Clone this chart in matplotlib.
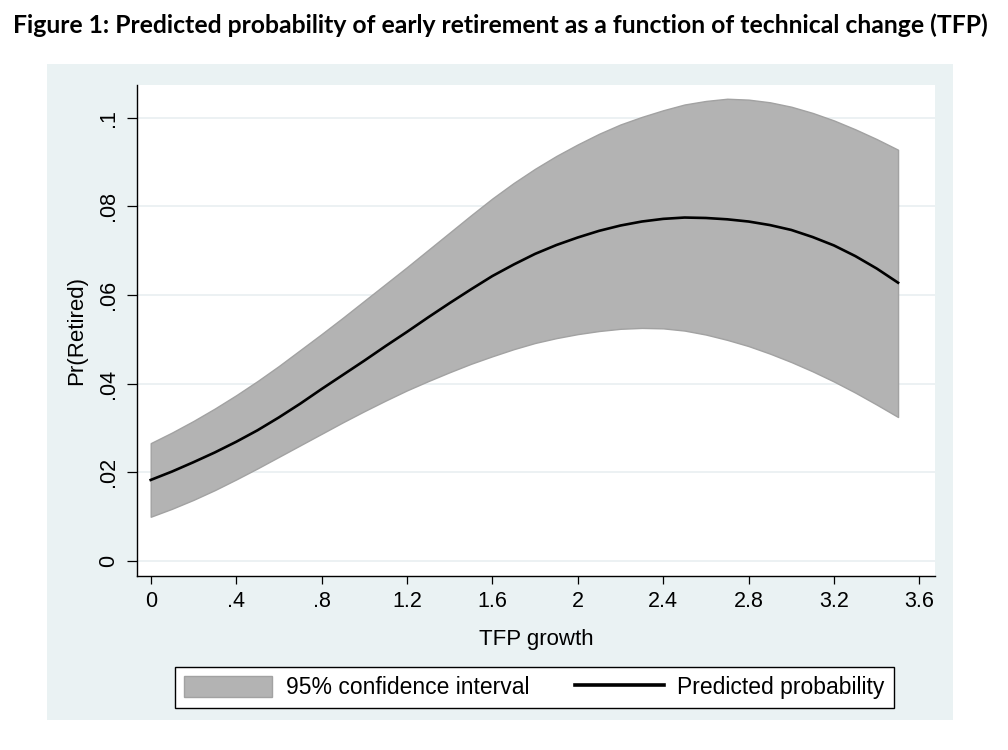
import matplotlib
matplotlib.use("Agg")
import matplotlib.pyplot as plt
from matplotlib.patches import Rectangle, Patch
from matplotlib.lines import Line2D

# values, every 0.1 of TFP growth
tfp = [0.0, 0.1, 0.2, 0.3, 0.4, 0.5, 0.6, 0.7, 0.8, 0.9,
       1.0, 1.1, 1.2, 1.3, 1.4, 1.5, 1.6, 1.7, 1.8, 1.9,
       2.0, 2.1, 2.2, 2.3, 2.4, 2.5, 2.6, 2.7, 2.8, 2.9,
       3.0, 3.1, 3.2, 3.3, 3.4, 3.5]
pred = [0.0183, 0.0202, 0.0223, 0.0245, 0.0269, 0.0295, 0.0324, 0.0355, 0.0388, 0.0420,
        0.0452, 0.0485, 0.0517, 0.0550, 0.0582, 0.0613, 0.0643, 0.0669, 0.0693, 0.0713,
        0.0730, 0.0745, 0.0757, 0.0766, 0.0772, 0.0775, 0.0774, 0.0771, 0.0766, 0.0758,
        0.0747, 0.0731, 0.0712, 0.0688, 0.0660, 0.0628]
ci_upper = [0.0266, 0.0290, 0.0316, 0.0344, 0.0374, 0.0406, 0.0440, 0.0476, 0.0512, 0.0549,
            0.0587, 0.0625, 0.0663, 0.0702, 0.0741, 0.0780, 0.0818, 0.0853, 0.0885, 0.0914,
            0.0940, 0.0964, 0.0985, 0.1002, 0.1017, 0.1030, 0.1038, 0.1043, 0.1041, 0.1035,
            0.1025, 0.1011, 0.0994, 0.0974, 0.0952, 0.0928]
ci_lower = [0.0100, 0.0118, 0.0138, 0.0160, 0.0184, 0.0209, 0.0235, 0.0261, 0.0287, 0.0313,
            0.0338, 0.0362, 0.0385, 0.0406, 0.0426, 0.0445, 0.0462, 0.0478, 0.0492, 0.0503,
            0.0512, 0.0519, 0.0524, 0.0526, 0.0525, 0.0520, 0.0511, 0.0499, 0.0485, 0.0468,
            0.0449, 0.0428, 0.0405, 0.0380, 0.0353, 0.0325]

x_ticks = [0, 0.4, 0.8, 1.2, 1.6, 2, 2.4, 2.8, 3.2, 3.6]
x_tick_labels = ["0", ".4", ".8", "1.2", "1.6", "2", "2.4", "2.8", "3.2", "3.6"]
y_ticks = [0, 0.02, 0.04, 0.06, 0.08, 0.1]
y_tick_labels = ["0", ".02", ".04", ".06", ".08", ".1"]

title = "Figure 1: Predicted probability of early retirement as a function of technical change (TFP)"

W, H = 1008, 750
plt.rcParams['font.family'] = ['Liberation Sans', 'DejaVu Sans']

fig = plt.figure(figsize=(W / 100, H / 100), dpi=100)
fig.patch.set_facecolor("white")

# stata graph region (behind the axes)
region = Rectangle((47 / W, 1 - 720 / H), 906 / W, 656 / H,
                   transform=fig.transFigure, facecolor="#EAF2F3",
                   edgecolor="none", zorder=-10)
fig.add_artist(region)

ax = fig.add_axes([136.7 / W, 1 - 575.7 / H, (935 - 136.7) / W, (575.7 - 85) / H])
ax.set_facecolor("white")

ax.fill_between(tfp, ci_lower, ci_upper, facecolor="#B3B3B3",
                edgecolor="#A2A2A2", linewidth=1.0, zorder=2)
ax.plot(tfp, pred, color="black", linewidth=1.9, zorder=3)

ax.set_xlim(-0.0656, 3.673)
ax.set_ylim(-0.0033, 0.1074)
ax.set_xticks(x_ticks)
ax.set_xticklabels(x_tick_labels)
ax.set_yticks(y_ticks)
ax.set_yticklabels(y_tick_labels, rotation=90, va="center")

ax.grid(axis="y", color="#E9EFF1", linewidth=1.2, zorder=1)
ax.set_axisbelow(True)

for s in ["top", "right"]:
    ax.spines[s].set_visible(False)
for s in ["left", "bottom"]:
    ax.spines[s].set_linewidth(1.0)
    ax.spines[s].set_color("black")

ax.tick_params(axis="x", length=6, width=0.9, pad=5, labelsize=15.5, colors="black")
ax.tick_params(axis="y", length=7.5, width=0.9, pad=5, labelsize=15.5, colors="black")

ax.set_xlabel("TFP growth", fontsize=16, labelpad=12)
ax.set_ylabel("Pr(Retired)", fontsize=16, labelpad=8)

handles = [Patch(facecolor="#B3B3B3", edgecolor="#A2A2A2"),
           Line2D([], [], color="black", linewidth=2.6)]
leg = fig.legend(handles, ["95% confidence interval", "Predicted probability"],
                 ncol=2, loc="center",
                 bbox_to_anchor=((175 + 894) / 2 / W, 1 - 687.5 / H),
                 fontsize=16.5, frameon=True, fancybox=False, edgecolor="black",
                 framealpha=1, handlelength=3.85, handleheight=1.05,
                 handletextpad=0.6, columnspacing=2.0, borderpad=0.4,
                 borderaxespad=0)
leg.get_frame().set_linewidth(1.0)

t = fig.text(500 / W, 1 - 25 / H, title, ha="center", va="center",
             fontsize=15, fontweight="bold", family=["Lato", "DejaVu Sans"])
# fit the title to the width it takes in the reference
fig.canvas.draw()
bb = t.get_window_extent()
t.set_fontsize(15 * 980 / bb.width)

fig.savefig("out.png", dpi=100)
